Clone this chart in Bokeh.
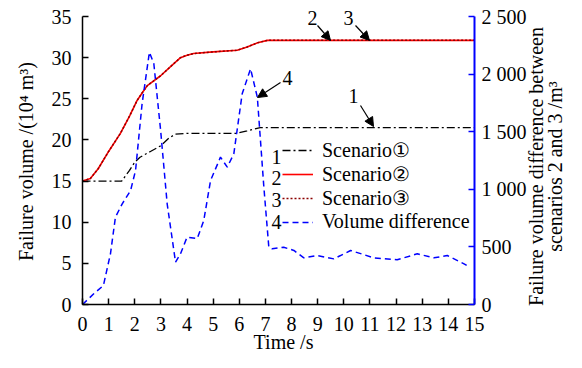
import math
from bokeh.plotting import figure
from bokeh.models import (Range1d, LinearAxis, FixedTicker, Legend, LegendItem,
                          Label, Arrow, NormalHead)
from bokeh.embed import file_html
from bokeh.resources import INLINE

# ---------------- data ----------------
t1 = [0, 0.5, 1.0, 1.5, 1.8, 2.0, 2.2, 2.6, 3.0, 3.3, 3.55, 4.0, 5.0, 5.9, 6.3, 6.8, 7.5, 9, 11, 13, 15]
s1 = [15.0, 15.0, 15.0, 15.0, 16.3, 17.3, 17.9, 18.6, 19.3, 20.2, 20.7, 20.8, 20.8, 20.8, 21.1, 21.5, 21.5, 21.5, 21.5, 21.5, 21.5]

t2 = [0, 0.3, 0.6, 1.0, 1.45, 1.8, 2.09, 2.3, 2.48, 2.99, 3.4, 3.75, 4.0, 4.25, 5.0, 5.92, 6.3, 6.7, 7.07, 7.5, 9, 11, 13, 15]
s2 = [15.0, 15.3, 16.5, 18.6, 20.8, 22.9, 24.8, 25.8, 26.6, 27.8, 29.0, 30.0, 30.3, 30.5, 30.7, 30.9, 31.3, 31.8, 32.1, 32.1, 32.1, 32.1, 32.1, 32.1]

t3 = [0, 0.3, 0.6, 1.0, 1.45, 1.8, 2.09, 2.3, 2.48, 2.99, 3.4, 3.75, 4.0, 4.25, 5.0, 5.92, 6.3, 6.7, 7.07, 7.5, 9, 11, 13, 15]
s3 = [15.0, 15.3, 16.5, 18.6, 20.8, 22.9, 24.8, 25.8, 26.6, 27.8, 29.0, 30.0, 30.3, 30.5, 30.7, 30.9, 31.3, 31.8, 32.1, 32.1, 32.1, 32.1, 32.1, 32.1]

td = [0, 0.43, 0.8, 1.07, 1.26, 1.52, 1.84, 2.03, 2.28, 2.56, 2.73, 2.99, 3.24, 3.56, 3.75, 4.0, 4.39, 4.64, 4.9,
      5.28, 5.54, 5.79, 6.11, 6.43, 6.69, 6.94, 7.13, 7.26, 7.7, 8.09, 8.47, 8.98, 9.62, 10.26, 11.15, 12.04,
      12.81, 13.45, 13.96, 14.6, 14.7]
dv = [0, 93, 165, 440, 758, 874, 990, 1163, 1742, 2190, 2090, 1510, 874, 367, 440, 584, 572, 729, 1076,
      1279, 1192, 1308, 1829, 2046, 1800, 1018, 497, 483, 497, 469, 405, 425, 396, 469, 405, 388,
      440, 405, 425, 353, 340]

legend_labels = ["Scenario①", "Scenario②", "Scenario③", "Volume difference"]
legend_numbers = ["1", "2", "3", "4"]

x_ticks = list(range(0, 16))
left_ticks = [0, 5, 10, 15, 20, 25, 30, 35]
right_ticks = [0, 500, 1000, 1500, 2000, 2500]
right_tick_labels = {0: "0", 500: "500", 1000: "1 000", 1500: "1 500", 2000: "2 000", 2500: "2 500"}

x_title = "Time /s"
left_title = "Failure volume /(10⁴ m³)"
right_title_lines = ["Failure volume difference between", "scenarios 2 and 3 /m³"]

FONT = "Liberation Serif"
FS = "20px"

# ---------------- layout geometry (pixels) ----------------
W, H = 566, 352
PX0, PX1 = 82, 474      # x = 0 and x = 15
PY0, PY1 = 304, 16      # y = 0 and y = 35
XMIN, XMAX = 0, 15
YMIN, YMAX = 0, 35
RMIN, RMAX = 0, 2500

def px_range(p0, p1, v0, v1, total, flip=False):
    if not flip:
        per = (p1 - p0) / (v1 - v0)
        return v0 - p0 / per, v0 + (total - p0) / per
    per = (p0 - p1) / (v1 - v0)
    return v0 - (total - p0) / per, v0 + p0 / per

xr = px_range(PX0, PX1, XMIN, XMAX, W)
yr = px_range(PY0, PY1, YMIN, YMAX, H, flip=True)
rr = px_range(PY0, PY1, RMIN, RMAX, H, flip=True)

def X(px):
    return XMIN + (px - PX0) * (XMAX - XMIN) / (PX1 - PX0)

def Y(py):
    return YMIN + (PY0 - py) * (YMAX - YMIN) / (PY0 - PY1)

p = figure(width=W, height=H, output_backend="svg", toolbar_location=None,
           x_range=Range1d(*xr), y_range=Range1d(*yr),
           min_border_left=0, min_border_right=0, min_border_top=0, min_border_bottom=0)
p.extra_y_ranges = {"diff": Range1d(*rr)}
p.outline_line_color = None
p.grid.visible = False
p.background_fill_color = "white"
p.border_fill_color = "white"

def style_axis(ax, color="black"):
    ax.axis_line_color = color
    ax.axis_line_width = 1.5
    ax.major_tick_line_color = color
    ax.major_tick_line_width = 1.5
    ax.major_tick_in = 6
    ax.major_tick_out = 0
    ax.minor_tick_line_color = None
    ax.major_label_text_font = FONT
    ax.major_label_text_font_size = FS
    ax.major_label_text_color = "black"

xa = p.xaxis[0]
style_axis(xa)
xa.ticker = FixedTicker(ticks=x_ticks)
xa.fixed_location = YMIN
xa.bounds = (XMIN, XMAX)
xa.major_label_standoff = 12

ya = p.yaxis[0]
style_axis(ya)
ya.ticker = FixedTicker(ticks=left_ticks)
ya.fixed_location = XMIN
ya.bounds = (YMIN, YMAX)
ya.major_label_standoff = 11

ra = LinearAxis(y_range_name="diff")
style_axis(ra, "#0000ff")
ra.axis_line_width = 2
ra.ticker = FixedTicker(ticks=right_ticks)
ra.major_label_overrides = right_tick_labels
ra.fixed_location = XMAX
ra.bounds = (RMIN, RMAX)
ra.major_label_standoff = 7
p.add_layout(ra, "right")

# axis titles
p.add_layout(Label(x=X(283), y=Y(341), text=x_title, text_font=FONT, text_font_size=FS,
                   text_color="black", text_align="center", text_baseline="middle"))
p.add_layout(Label(x=X(25), y=Y(161), text=left_title, angle=math.pi / 2, text_font=FONT,
                   text_font_size=FS, text_color="black", text_align="center", text_baseline="middle"))
for line_txt, xpx in zip(right_title_lines, [535, 554]):
    p.add_layout(Label(x=X(xpx), y=Y(166), text=line_txt, angle=math.pi / 2, text_font=FONT,
                       text_font_size=FS, text_color="black", text_align="center",
                       text_baseline="middle"))

r1 = p.line(t1, s1, line_color="black", line_width=1.3, line_dash="8 3 2 3")
r2 = p.line(t2, s2, line_color="#ff0000", line_width=1.6)
r3 = p.line(t3, s3, line_color="#8b0000", line_width=1.5, line_dash="2 2")
r4 = p.line(td, dv, line_color="#0000ff", line_width=1.5, line_dash="6 4", y_range_name="diff")

legend = Legend(items=[LegendItem(label=l, renderers=[r]) for l, r in zip(legend_labels, [r1, r2, r3, r4])],
                location=(282, 352 - 233), orientation="vertical",
                label_text_font=FONT, label_text_font_size=FS, label_text_color="black",
                glyph_width=31, glyph_height=18, label_height=18, spacing=-3,
                label_standoff=9, padding=0, margin=0,
                border_line_color=None, background_fill_alpha=0)
p.add_layout(legend, "center")

# legend numbers
for num, ypx in zip(legend_numbers, [156, 177.5, 199, 221]):
    p.add_layout(Label(x=X(281), y=Y(ypx), text=num, text_font=FONT, text_font_size=FS, text_color="black",
                       text_align="right", text_baseline="middle"))

# callout arrows (pixel positions of number, arrow tail, arrow head)
callouts = [("2", (312, 17), (317, 25), (330, 40)),
            ("3", (348, 17), (355, 25), (369, 40)),
            ("4", (287, 77), (280, 82), (257, 97)),
            ("1", (353, 95), (360, 105), (373, 126))]
for txt, (lx, ly), (xs, ys), (xe, ye) in callouts:
    p.add_layout(Label(x=X(lx), y=Y(ly), text=txt, text_font=FONT, text_font_size=FS, text_color="black",
                       text_align="center", text_baseline="middle"))
    p.add_layout(Arrow(end=NormalHead(size=9, fill_color="black", line_color="black"),
                       x_start=X(xs), y_start=Y(ys), x_end=X(xe), y_end=Y(ye),
                       line_color="black", line_width=1.2))

open("out.html", "w").write(file_html(p, INLINE))
